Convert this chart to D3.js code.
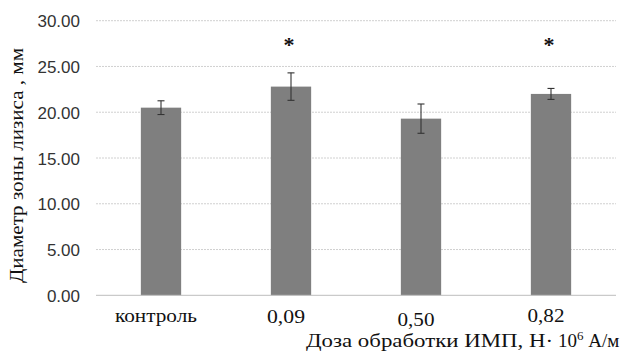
<!DOCTYPE html>
<html><head><meta charset="utf-8">
<script src="https://cdn.jsdelivr.net/npm/d3@7"></script>
<style>body{margin:0;background:#fff}svg{display:block}</style>
</head><body>
<svg id="c" width="622" height="352"></svg>
<script>
const categories = ["контроль", "0,09", "0,50", "0,82"];
const values = [20.5, 22.8, 19.3, 22.0];
const errors = [0.75, 1.5, 1.6, 0.6];
const significant = [false, true, false, true];
const yTicks = [0, 5, 10, 15, 20, 25, 30];
const yTitle = "Диаметр зоны лизиса , мм";

(function () {
const SERIF = "'Liberation Serif','Times New Roman',serif";
const SANS = "'Liberation Sans',Arial,sans-serif";
const svg = d3.select("#c");
const mLeft = 96, mRight = 616, mTop = 20.7, mBottom = 295.3;
const x = d3.scaleBand().domain(categories).range([mLeft, mRight]).paddingInner(0.69).paddingOuter(0.345);
const y = d3.scaleLinear().domain([0, 30]).range([mBottom, mTop]);

// gridlines
svg.append("g").selectAll("line").data(yTicks.filter(d => d > 0)).join("line")
  .attr("x1", mLeft).attr("x2", mRight).attr("y1", d => y(d)).attr("y2", d => y(d))
  .attr("stroke", "#d0d0d0").attr("stroke-width", 1).attr("stroke-dasharray", "2,1");

// y axis labels
const yAxis = d3.axisLeft(y).tickValues(yTicks).tickFormat(d3.format(".2f")).tickSize(0).tickPadding(16);
const ga = svg.append("g").attr("transform", `translate(${mLeft},0)`).call(yAxis);
ga.select(".domain").remove();
ga.attr("font-family", null).attr("font-size", null);
ga.selectAll("text").style("font-family", SANS).style("font-size", "17px").attr("fill", "#333").attr("dy", "0.36em");

// bars
svg.append("g").selectAll("rect").data(values).join("rect")
  .attr("x", (d, i) => x(categories[i])).attr("width", x.bandwidth())
  .attr("y", d => y(d)).attr("height", d => y(0) - y(d))
  .attr("fill", "#7f7f7f");

// baseline
svg.append("line").attr("x1", mLeft).attr("x2", mRight).attr("y1", y(0)).attr("y2", y(0))
  .attr("stroke", "#bdbdbd").attr("stroke-width", 1);

// error bars
const eg = svg.append("g").attr("stroke", "#333").attr("stroke-width", 1.1);
values.forEach((v, i) => {
  const cx = x(categories[i]) + x.bandwidth() / 2;
  eg.append("line").attr("x1", cx).attr("x2", cx).attr("y1", y(v + errors[i])).attr("y2", y(v - errors[i]));
  eg.append("line").attr("x1", cx - 3.5).attr("x2", cx + 3.5).attr("y1", y(v + errors[i])).attr("y2", y(v + errors[i]));
  eg.append("line").attr("x1", cx - 3.5).attr("x2", cx + 3.5).attr("y1", y(v - errors[i])).attr("y2", y(v - errors[i]));
});

// asterisks
svg.append("g").selectAll("text").data(values.map((v, i) => i).filter(i => significant[i])).join("text")
  .attr("x", i => x(categories[i]) + x.bandwidth() / 2 - 2)
  .attr("y", y(26.6))
  .attr("text-anchor", "middle").style("font-family", SERIF).style("font-size", "22px")
  .attr("font-weight", "bold").attr("fill", "#111")
  .text("*");

// x labels (staggered as in original)
const labelY = [321.7, 322.5, 326.2, 321.7];
const labelW = [82, 38, 37, 37];
svg.append("g").selectAll("text").data(categories).join("text")
  .attr("x", d => x(d) + x.bandwidth() / 2 - 5)
  .attr("y", (d, i) => labelY[i])
  .attr("text-anchor", "middle").style("font-family", SERIF)
  .style("font-size", "18px").attr("fill", "#111")
  .attr("textLength", (d, i) => labelW[i]).attr("lengthAdjust", "spacingAndGlyphs")
  .text(d => d);

// x title
const xt = svg.append("text").attr("y", 347)
  .style("font-family", SERIF).style("font-size", "19px").attr("fill", "#111");
xt.append("tspan").attr("x", 306).attr("textLength", 247).attr("lengthAdjust", "spacingAndGlyphs").text("Доза обработки ИМП, Н·");
xt.append("tspan").attr("x", 558).text("10");
xt.append("tspan").attr("dy", -7).style("font-size", "13px").text("6");
xt.append("tspan").attr("dy", 7).text(" А/м");

// y title
svg.append("text").attr("transform", `translate(23,165.5) rotate(-90)`)
  .attr("text-anchor", "middle").style("font-family", SERIF).style("font-size", "19px").attr("fill", "#111")
  .attr("textLength", 235).attr("lengthAdjust", "spacingAndGlyphs")
  .text(yTitle);
})();
</script>
</body></html>
